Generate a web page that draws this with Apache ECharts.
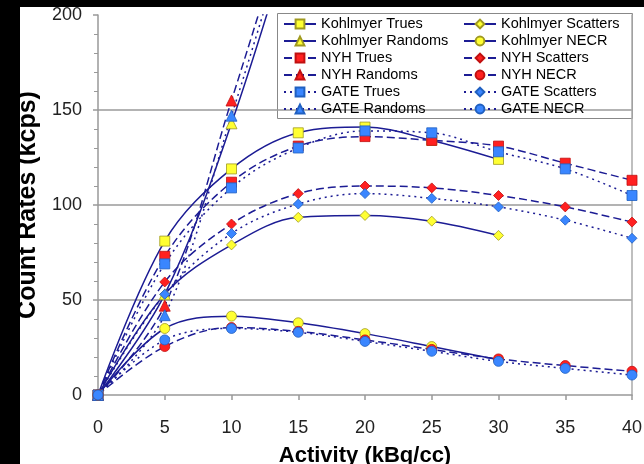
<!DOCTYPE html>
<html>
<head>
<meta charset="utf-8">
<script src="https://cdn.jsdelivr.net/npm/echarts@6/dist/echarts.min.js"></script>
<style>
  html, body { margin: 0; padding: 0; background: #fff; }
  #main { width: 644px; height: 464px; }
</style>
</head>
<body>
<div id="main"></div>
<script>
// activity (kBq/cc) on the x axis
const activity = [0, 5, 10, 15, 20, 25, 30, 35, 40]
const yTicks = [0, 50, 100, 150, 200]

// Trues
const kohlTrues = [0, 81, 119, 138, 141, 134, 124]
const nyhTrues = [0, 73, 112, 131, 136, 134, 131, 122, 113]
const gateTrues = [0, 69, 109, 130, 139, 138, 128, 119, 105]
// Randoms (run off the top after 10)
const kohlRandoms = [0, 53, 143, 255]
const nyhRandoms = [0, 47, 155, 268]
const gateRandoms = [0, 42, 147, 262]
// Scatters
const kohlScatters = [0, 53, 79, 93.5, 94.5, 91.5, 84]
const nyhScatters = [0, 59.5, 90, 106, 110, 109, 105, 99, 91]
const gateScatters = [0, 53, 85, 100.5, 106, 103.5, 99, 92, 82.5]
// NECR
const kohlNecr = [0, 35, 41.5, 38, 32.3, 25.5, 18.5]
const nyhNecr = [0, 25.5, 35.5, 33.5, 29, 24, 19, 15.5, 12.5]
const gateNecr = [0, 29, 35, 33, 28.2, 23, 17.7, 14, 10.5]

const legendLeft = ['Kohlmyer Trues', 'Kohlmyer Randoms', 'NYH Trues', 'NYH Randoms', 'GATE Trues', 'GATE Randoms']
const legendRight = ['Kohlmyer Scatters', 'Kohlmyer NECR', 'NYH Scatters', 'NYH NECR', 'GATE Scatters', 'GATE NECR']

const lineColor = '#1c1c94'
const yellow = { fill: '#ffff33', border: '#a09a20' }
const red = { fill: '#ff2020', border: '#c01010' }
const blue = { fill: '#3a86ff', border: '#2060c0' }
// Kohlmyer solid, NYH dashed, GATE dotted
const solid = 'solid'
const dashed = [8, 4]
const dotted = [2, 4]

// pair each value with its activity
function pairs(values) {
  return values.map((v, i) => [activity[i], v])
}

function makeSeries(name, values, symbol, size, col, dash) {
  return {
    name: name,
    type: 'line',
    data: pairs(values),
    smooth: 0.35,
    symbol: symbol,
    symbolSize: size,
    showAllSymbol: true,
    lineStyle: { color: lineColor, width: 1.5, type: dash },
    itemStyle: { color: col.fill, borderColor: col.border, borderWidth: 0.8 },
    z: 3
  }
}

const chart = echarts.init(document.getElementById('main'), null, { renderer: 'canvas' })

const legendText = { fontFamily: 'Liberation Sans', fontSize: 14.5, color: '#000', lineHeight: 17 }

const option = {
  animation: false,
  backgroundColor: '#fff',
  grid: { left: 98, right: 12, top: 15, bottom: 69, outerBoundsMode: 'none' },
  xAxis: {
    type: 'value',
    min: 0,
    max: 40,
    interval: 5,
    name: 'Activity (kBq/cc)',
    nameLocation: 'middle',
    nameGap: 50,
    nameTextStyle: { fontFamily: 'Liberation Sans', fontWeight: 'bold', fontSize: 22, color: '#000' },
    axisLine: { lineStyle: { color: '#999', width: 1.5 } },
    axisTick: { length: 5, lineStyle: { color: '#999', width: 1.5 } },
    axisLabel: { margin: 24, fontFamily: 'Liberation Sans', fontSize: 18, color: '#222' },
    splitLine: { show: false }
  },
  yAxis: [{
    type: 'value',
    min: yTicks[0],
    max: yTicks[yTicks.length - 1],
    interval: 50,
    name: 'Count Rates (kcps)',
    nameLocation: 'middle',
    nameGap: 44,
    nameTextStyle: { fontFamily: 'Liberation Sans', fontWeight: 'bold', fontSize: 25, color: '#000' },
    axisLine: { show: true, lineStyle: { color: '#999', width: 1.5 } },
    axisTick: { show: true, length: 5, lineStyle: { color: '#999', width: 1.5 } },
    minorTick: { show: true, splitNumber: 5, length: 4, lineStyle: { color: '#999' } },
    axisLabel: { margin: 16, fontFamily: 'Liberation Sans', fontSize: 18, color: '#222' },
    // no grid line at 0 or 200
    splitLine: { show: true, lineStyle: { color: ['transparent', '#9a9a9a', '#9a9a9a', '#9a9a9a', 'transparent'], width: 1.5 } }
  }, {
    // right border of the plot
    type: 'value',
    position: 'right',
    min: 0,
    max: 200,
    axisLine: { show: true, lineStyle: { color: '#aaa', width: 1.5 } },
    axisTick: { show: false },
    axisLabel: { show: false },
    splitLine: { show: false }
  }],
  legend: [{
    data: legendLeft,
    orient: 'vertical',
    left: 278,
    top: 10.5,
    itemWidth: 32,
    itemHeight: 11,
    itemGap: 0,
    textStyle: legendText
  }, {
    data: legendRight,
    orient: 'vertical',
    left: 458,
    top: 10.5,
    itemWidth: 32,
    itemHeight: 11,
    itemGap: 0,
    textStyle: legendText
  }],
  graphic: [
    // legend frame
    { type: 'rect', left: 277, top: 13, z: -1, shape: { width: 355, height: 105 }, style: { fill: '#fff', stroke: '#888', lineWidth: 1 } },
    // black bands of the original photo
    { type: 'rect', left: 0, top: 0, shape: { width: 644, height: 7 }, style: { fill: '#000' } },
    { type: 'rect', left: 0, top: 0, shape: { width: 20, height: 464 }, style: { fill: '#000' } }
  ],
  series: [
    makeSeries('Kohlmyer Trues', kohlTrues, 'rect', 10, yellow, solid),
    makeSeries('Kohlmyer Randoms', kohlRandoms, 'triangle', 11, yellow, solid),
    makeSeries('NYH Trues', nyhTrues, 'rect', 10, red, dashed),
    makeSeries('NYH Randoms', nyhRandoms, 'triangle', 11, red, dashed),
    makeSeries('GATE Trues', gateTrues, 'rect', 10, blue, dotted),
    makeSeries('GATE Randoms', gateRandoms, 'triangle', 11, blue, dotted),
    makeSeries('Kohlmyer Scatters', kohlScatters, 'diamond', 10, yellow, solid),
    makeSeries('Kohlmyer NECR', kohlNecr, 'circle', 10, yellow, solid),
    makeSeries('NYH Scatters', nyhScatters, 'diamond', 10, red, dashed),
    makeSeries('NYH NECR', nyhNecr, 'circle', 10, red, dashed),
    makeSeries('GATE Scatters', gateScatters, 'diamond', 10, blue, dotted),
    makeSeries('GATE NECR', gateNecr, 'circle', 10, blue, dotted)
  ]
}

chart.setOption(option)
</script>
</body>
</html>
